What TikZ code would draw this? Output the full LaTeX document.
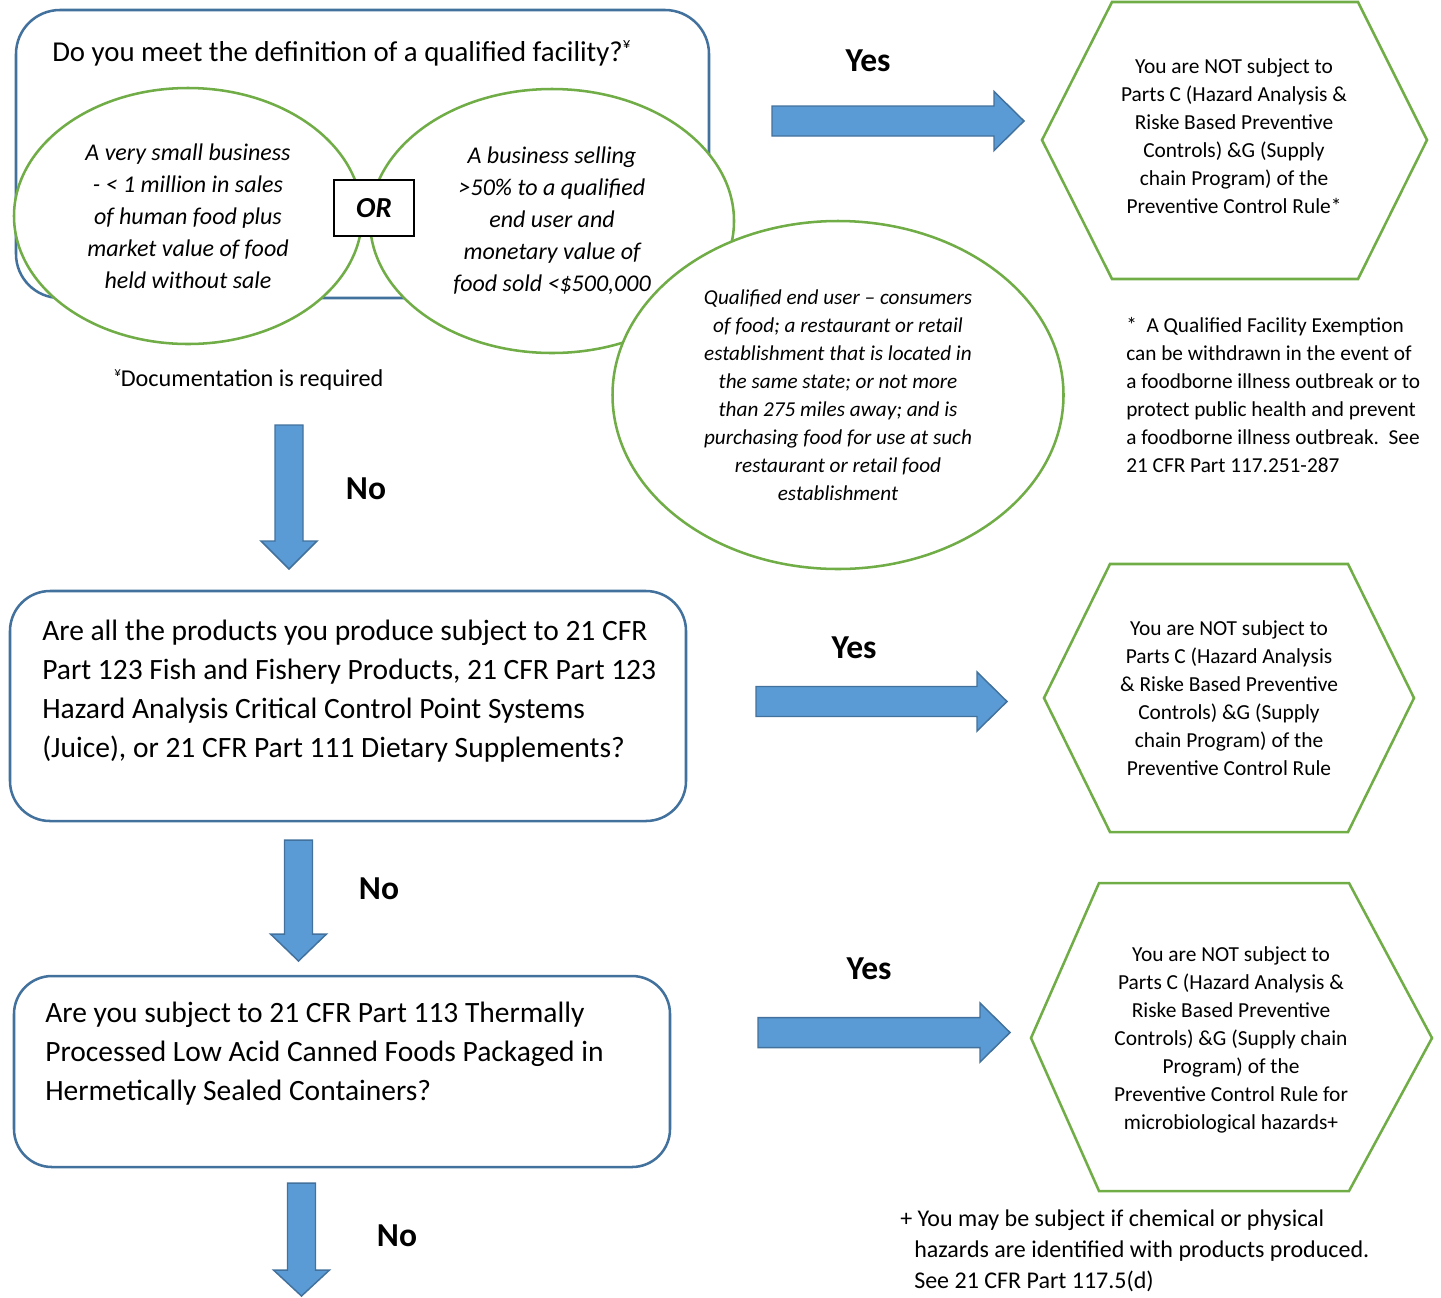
\documentclass[tikz,border=0pt]{standalone}
\usepackage{fontspec}
\setmainfont{Carlito}
\usetikzlibrary{shapes.geometric}
\definecolor{ofill}{HTML}{5B9BD5}
\definecolor{oline}{HTML}{41719C}
\definecolor{ogreen}{HTML}{70AD47}
\newcommand{\pxf}[2]{\fontsize{\fpeval{0.75*#1}pt}{\fpeval{0.75*#2}pt}\selectfont}
\newcommand{\rblock}[4]{% x1, xtip, yc, headstart
  \draw[blockarrow] (#1,#3-15) -- (#4,#3-15) -- (#4,#3-29.5) -- (#2,#3) -- (#4,#3+29.5) -- (#4,#3+15) -- (#1,#3+15) -- cycle;}
\newcommand{\dblock}[4]{% xc, ytop, ytip, headstart
  \draw[blockarrow] (#1-14,#2) -- (#1+14,#2) -- (#1+14,#4) -- (#1+28,#4) -- (#1,#3) -- (#1-28,#4) -- (#1-14,#4) -- cycle;}
\begin{document}
\begin{tikzpicture}[x=0.75pt,y=-0.75pt,
  qbox/.style={draw=oline, line width=1.9pt, fill=white},
  greenline/.style={draw=ogreen, line width=1.9pt},
  bubble/.style={ellipse, greenline, fill=white, inner sep=0pt, align=center},
  blockarrow/.style={draw=oline, line width=1.1pt, fill=ofill, line join=miter},
  hexline/.style={greenline, line join=miter},
  hextext/.style={align=center, inner sep=0pt, font=\pxf{21.4}{28}},
  lbl/.style={font=\pxf{33.5}{36}\bfseries, inner sep=0pt}]
\useasboundingbox (0,0) rectangle (1441,1297);

% ---------- question 1 ----------
\draw[qbox, rounded corners={44*0.75pt}] (16,10) rectangle (709,298);
\node[anchor=west, inner sep=0pt, font=\pxf{28.8}{32}] (q1) at (52,53)
  {Do you meet the definition of a qualified facility?\raisebox{0.45em}{\pxf{15}{16}¥}};
\node[bubble, minimum width={348*0.75pt}, minimum height={256*0.75pt}, font=\pxf{24}{32}\itshape] (c1) at (188,216)
  {A very small business\\- < 1 million in sales\\of human food plus\\market value of food\\held without sale};
\node[bubble, minimum width={364*0.75pt}, minimum height={264*0.75pt}, font=\pxf{24}{32}\itshape] (c2) at (552,221)
  {A business selling\\>50\% to a qualified\\end user and\\monetary value of\\food sold <\$500,000};
\node[draw=black, line width=0.8pt, fill=white, minimum width={80*0.75pt}, minimum height={56*0.75pt}, inner sep=0pt,
  font=\pxf{29}{30}\bfseries\itshape] (or) at (374,208) {OR};
\node[bubble, minimum width={451*0.75pt}, minimum height={348*0.75pt}, font=\pxf{21.2}{28}\itshape] (c3) at (838,395)
  {Qualified end user -- consumers\\of food; a restaurant or retail\\establishment that is located in\\the same state; or not more\\than 275 miles away; and is\\purchasing food for use at such\\restaurant or retail food\\establishment};
\node[anchor=west, inner sep=0pt, font=\pxf{24.2}{26}] (doc) at (114,380)
  {\raisebox{0.4em}{\pxf{13}{14}¥}Documentation is required};

% ---------- yes 1 ----------
\rblock{772}{1024}{121}{994}
\node[lbl] (y1) at (868,61) {Yes};
\draw[hexline] (1112,2) -- (1358,2) -- (1427,140) -- (1358,279) -- (1112,279) -- (1042,140) -- cycle;
\node[hextext] (h1) at (1234,136)
  {You are NOT subject to\\Parts C (Hazard Analysis \&\\Riske Based Preventive\\Controls) \&G (Supply\\chain Program) of the\\Preventive Control Rule*};
\node[anchor=west, align=left, inner sep=0pt, font=\pxf{21.3}{28}] (n1) at (1126,395)
  {*\ \ A Qualified Facility Exemption\\can be withdrawn in the event of\\a foodborne illness outbreak or to\\protect public health and prevent\\a foodborne illness outbreak.\ \ See\\21 CFR Part 117.251-287};

% ---------- no 1 ----------
\dblock{289}{425}{569}{541}
\node[lbl] (no1) at (366,489) {No};

% ---------- question 2 ----------
\draw[qbox, rounded corners={40*0.75pt}] (10,591) rectangle (686,821);
\node[anchor=west, align=left, inner sep=0pt, font=\pxf{29.5}{39}] (q2) at (42,691)
  {Are all the products you produce subject to 21 CFR\\Part 123 Fish and Fishery Products, 21 CFR Part 123\\Hazard Analysis Critical Control Point Systems\\(Juice), or 21 CFR Part 111 Dietary Supplements?};
\rblock{756}{1007}{701.5}{977}
\node[lbl] (y2) at (854,648) {Yes};
\draw[hexline] (1110,564) -- (1348,564) -- (1414,698) -- (1348,832) -- (1110,832) -- (1044,698) -- cycle;
\node[hextext] (h2) at (1229,698)
  {You are NOT subject to\\Parts C (Hazard Analysis\\\& Riske Based Preventive\\Controls) \&G (Supply\\chain Program) of the\\Preventive Control Rule};

% ---------- no 2 ----------
\dblock{298.5}{840}{961}{934}
\node[lbl] (no2) at (379,889) {No};

% ---------- question 3 ----------
\draw[qbox, rounded corners={38*0.75pt}] (14,976) rectangle (670,1167);
\node[anchor=west, align=left, inner sep=0pt, font=\pxf{29.5}{39}] (q3) at (45,1054)
  {Are you subject to 21 CFR Part 113 Thermally\\Processed Low Acid Canned Foods Packaged in\\Hermetically Sealed Containers?};
\rblock{758}{1010}{1032.5}{980}
\node[lbl] (y3) at (869,969) {Yes};
\draw[hexline] (1099,883) -- (1349,883) -- (1432,1038) -- (1349,1191) -- (1099,1191) -- (1031,1038) -- cycle;
\node[hextext] (h3) at (1231,1040)
  {You are NOT subject to\\Parts C (Hazard Analysis \&\\Riske Based Preventive\\Controls) \&G (Supply chain\\Program) of the\\Preventive Control Rule for\\microbiological hazards+};

% ---------- no 3 ----------
\dblock{301.5}{1183}{1296}{1270}
\node[lbl] (no3) at (397,1236) {No};
\node[anchor=west, align=left, inner sep=0pt, font=\pxf{24}{31}] (n3) at (900,1251)
  {+\hspace{4pt}You may be subject if chemical or physical\\\hspace*{10.5pt}hazards are identified with products produced.\\\hspace*{10.5pt}See 21 CFR Part 117.5(d)};
\end{tikzpicture}
\end{document}
